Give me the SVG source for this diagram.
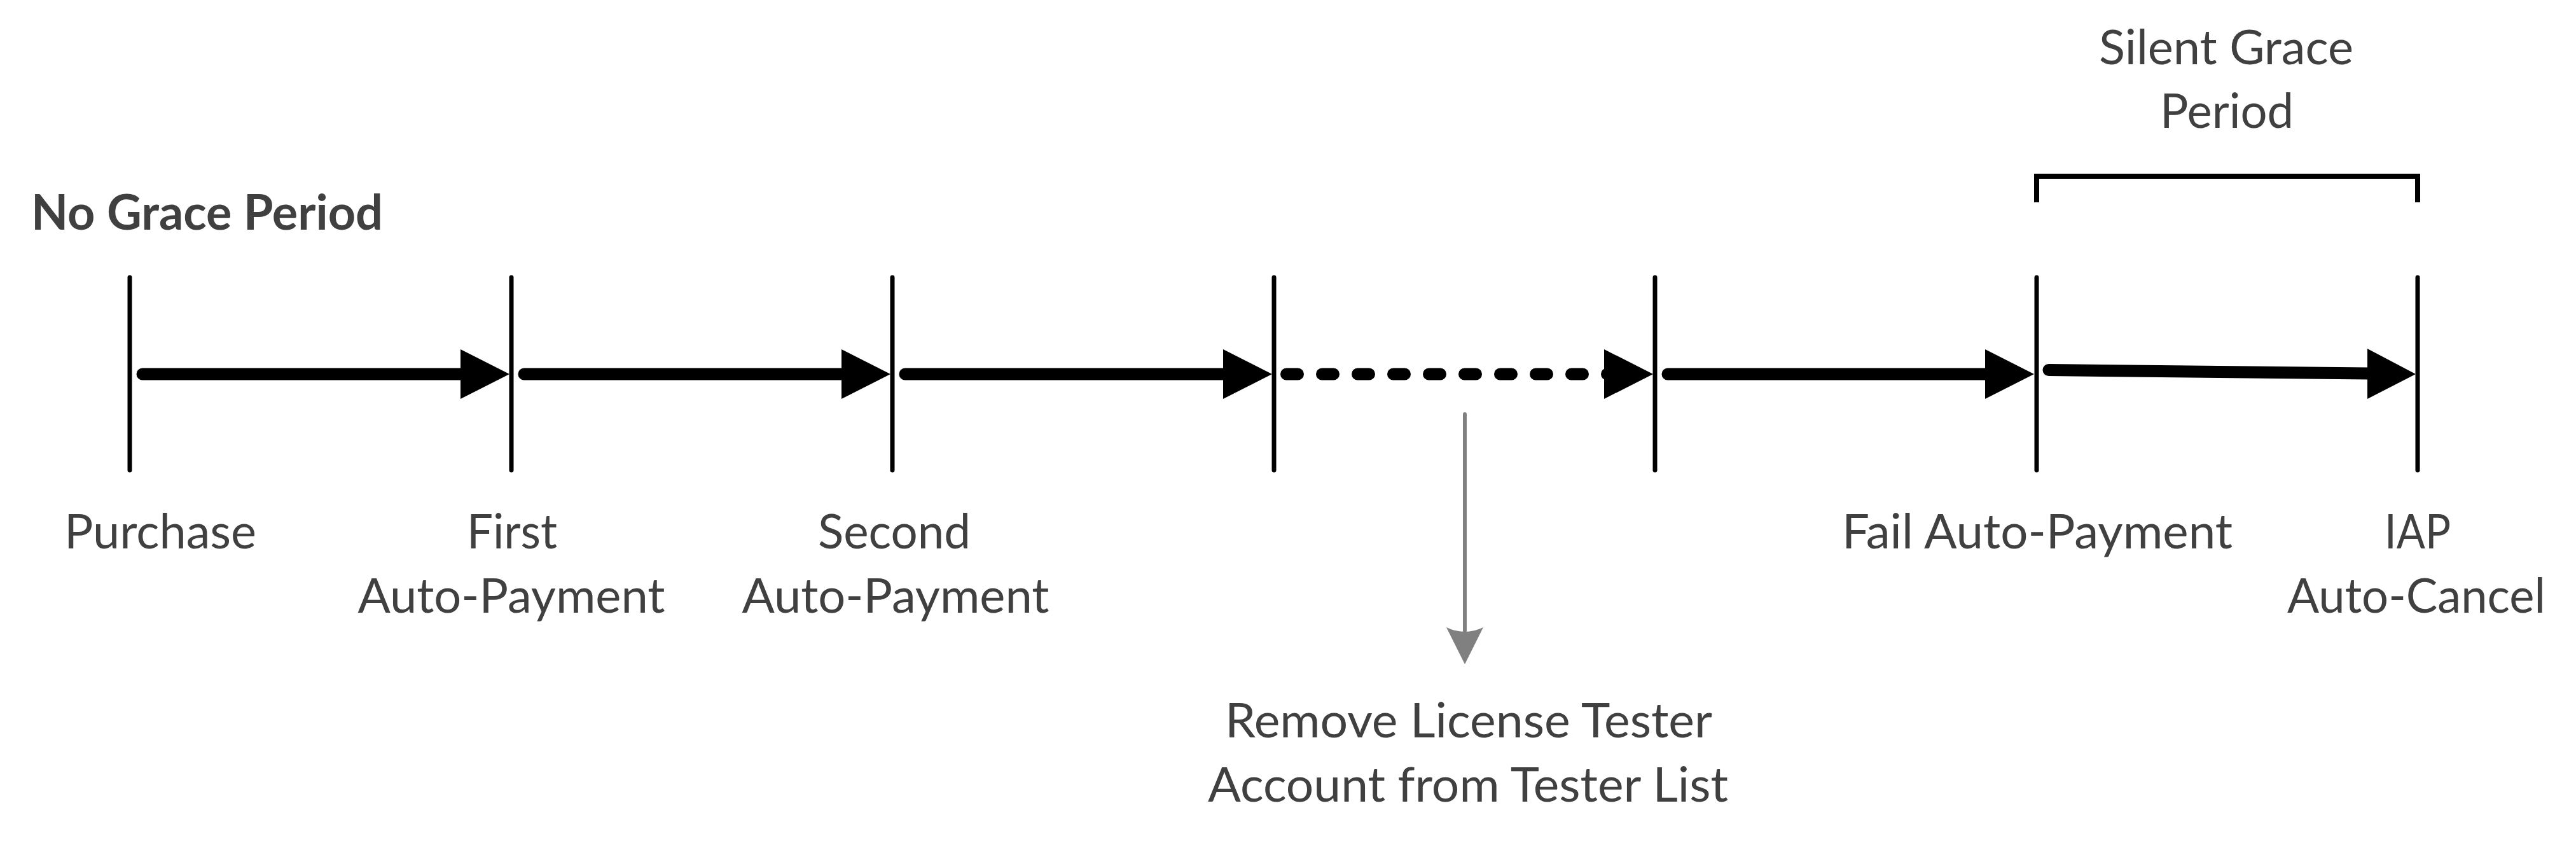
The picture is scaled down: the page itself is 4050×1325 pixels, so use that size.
<svg xmlns="http://www.w3.org/2000/svg" width="4050" height="1325" viewBox="0 0 4050 1325">
<style>
.bg{fill:#ffffff}
.tick{stroke:#000;stroke-width:7;stroke-linecap:round;fill:none}
.shaft{stroke:#000;stroke-width:19;stroke-linecap:round;fill:none}
.dots{stroke:#000;stroke-width:19;stroke-linecap:round;stroke-dasharray:18 38;fill:none}
.head{fill:#000}
.gshaft{stroke:#808080;stroke-width:6;stroke-linecap:round;fill:none}
.ghead{fill:#808080}
.bracket{stroke:#000;stroke-width:8;fill:none;stroke-linejoin:miter;stroke-linecap:butt}
.t{font-family:Lato,"Open Sans","Liberation Sans",sans-serif;font-size:76px;fill:#404040;text-anchor:middle}
.b{font-family:Lato,"Open Sans","Liberation Sans",sans-serif;font-size:76px;font-weight:bold;fill:#404040}
</style>
<rect class="bg" x="0" y="0" width="4050" height="1325"/>

<g id="title">
<text class="b" x="49" y="361" textLength="553" lengthAdjust="spacingAndGlyphs">No Grace Period</text>
</g>

<g id="node-purchase">
<line class="tick" x1="204" y1="436" x2="204" y2="739"/>
<text class="t" x="252" y="862" textLength="302" lengthAdjust="spacingAndGlyphs">Purchase</text>
</g>
<g id="node-first">
<line class="tick" x1="804" y1="436" x2="804" y2="739"/>
<text class="t" x="805" y="862" textLength="142" lengthAdjust="spacingAndGlyphs">First</text>
<text class="t" x="804" y="963" textLength="483" lengthAdjust="spacingAndGlyphs">Auto-Payment</text>
</g>
<g id="node-second">
<line class="tick" x1="1403" y1="436" x2="1403" y2="739"/>
<text class="t" x="1406" y="862" textLength="240" lengthAdjust="spacingAndGlyphs">Second</text>
<text class="t" x="1408" y="963" textLength="483" lengthAdjust="spacingAndGlyphs">Auto-Payment</text>
</g>
<g id="node-mid1">
<line class="tick" x1="2003" y1="436" x2="2003" y2="739"/>
</g>
<g id="node-mid2">
<line class="tick" x1="2602" y1="436" x2="2602" y2="739"/>
</g>
<g id="node-fail">
<line class="tick" x1="3202" y1="436" x2="3202" y2="739"/>
<text class="t" x="3203" y="862" textLength="614" lengthAdjust="spacingAndGlyphs">Fail Auto-Payment</text>
</g>
<g id="node-cancel">
<line class="tick" x1="3801" y1="436" x2="3801" y2="739"/>
<text class="t" x="3801" y="862" textLength="104" lengthAdjust="spacingAndGlyphs">IAP</text>
<text class="t" x="3799" y="963" textLength="406" lengthAdjust="spacingAndGlyphs">Auto-Cancel</text>
</g>
<g id="node-remove">
<text class="t" x="2309" y="1159" textLength="766" lengthAdjust="spacingAndGlyphs">Remove License Tester</text>
<text class="t" x="2308" y="1260" textLength="818" lengthAdjust="spacingAndGlyphs">Account from Tester List</text>
</g>
<g id="node-grace">
<path class="bracket" d="M3202,318 V277 H3801 V318"/>
<text class="t" x="3500" y="101" textLength="400" lengthAdjust="spacingAndGlyphs">Silent Grace</text>
<text class="t" x="3501" y="201" textLength="210" lengthAdjust="spacingAndGlyphs">Period</text>
</g>

<g id="connectors">
<line class="shaft" x1="224" y1="588" x2="726" y2="588"/>
<polygon class="head" points="801,588 724,549 724,627"/>
<line class="shaft" x1="824" y1="588" x2="1326" y2="588"/>
<polygon class="head" points="1400,588 1323,549 1323,627"/>
<line class="shaft" x1="1423" y1="588" x2="1925" y2="588"/>
<polygon class="head" points="2000,588 1923,549 1923,627"/>
<path class="dots" d="M2022.5,588 H2546"/>
<polygon class="head" points="2599,588 2522,549 2522,627"/>
<line class="shaft" x1="2622" y1="588" x2="3124" y2="588"/>
<polygon class="head" points="3198,588 3121,549 3121,627"/>
<line class="shaft" x1="3221" y1="581.5" x2="3724" y2="587"/>
<polygon class="head" points="3798,588 3722,548 3722,627"/>
<line class="gshaft" x1="2303" y1="651" x2="2303" y2="992"/>
<path class="ghead" d="M2303,1044 L2274,986 Q2303,1000 2332,986 Z"/>
</g>
</svg>
